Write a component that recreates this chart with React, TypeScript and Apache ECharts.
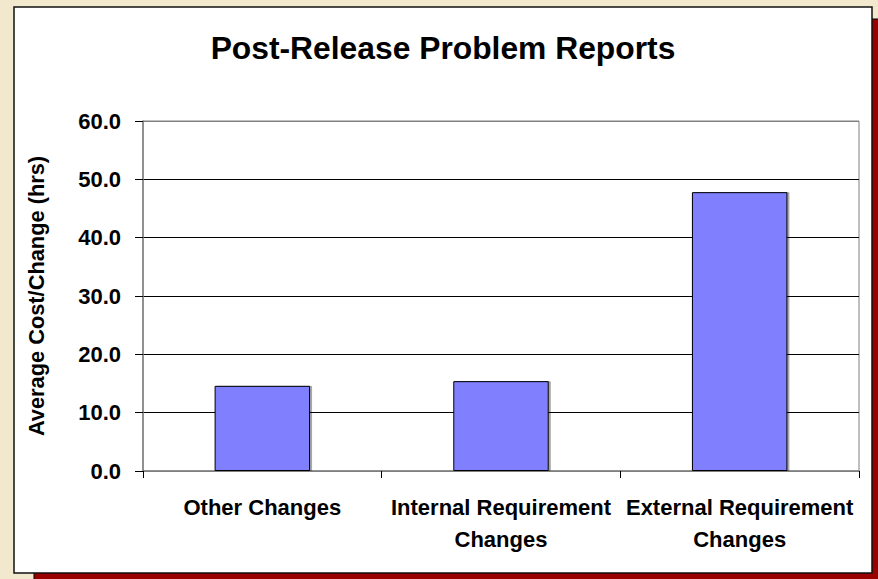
import React, { useEffect, useRef } from "react";
import * as echarts from "echarts";

const chartTitle = "Post-Release Problem Reports";
const yAxisName = "Average Cost/Change (hrs)";
const categories = ["Other Changes", "Internal Requirement\nChanges", "External Requirement\nChanges"];
const avgCost = [14.6, 15.4, 47.8];
const yMin = 0;
const yMax = 60;
const yStep = 10;

const FONT = "'Liberation Sans', Arial, Helvetica, sans-serif";

export default function App() {
  const ref = useRef<HTMLDivElement>(null);
  useEffect(() => {
    if (!ref.current) return;
    const chart = echarts.init(ref.current, null, { renderer: "svg" });
    chart.setOption({
      animation: false,
      backgroundColor: "#f1e8cd",
      textStyle: { fontFamily: FONT },
      graphic: [
        {
          type: "rect",
          z: -20,
          shape: { x: 34, y: 19, width: 870, height: 580 },
          style: { fill: "#990000", stroke: "#000", lineWidth: 1 },
        },
        {
          type: "rect",
          z: -10,
          shape: { x: 14, y: 7, width: 858, height: 566 },
          style: { fill: "#ffffff", stroke: "#111", lineWidth: 1.5 },
        },
        {
          type: "text",
          z: 10,
          x: 443,
          y: 48,
          style: {
            text: chartTitle,
            fontFamily: FONT,
            fontSize: 31.8,
            fontWeight: "bold",
            fill: "#000",
            align: "center",
            verticalAlign: "middle",
          },
        },
      ],
      grid: {
        left: 143,
        right: 19,
        top: 121,
        bottom: 108,
        containLabel: false,
        show: true,
        borderColor: "#808080",
        borderWidth: 1,
        backgroundColor: "transparent",
      },
      xAxis: {
        type: "category",
        data: categories,
        axisLine: { show: true, lineStyle: { color: "#808080", width: 1.5 } },
        axisTick: { show: true, length: 7, lineStyle: { color: "#000" }, alignWithLabel: false },
        axisLabel: {
          interval: 0,
          margin: 20,
          fontFamily: FONT,
          fontSize: 22,
          fontWeight: "bold",
          color: "#000",
          lineHeight: 32,
        },
        splitLine: { show: false },
      },
      yAxis: {
        type: "value",
        min: yMin,
        max: yMax,
        interval: yStep,
        name: yAxisName,
        nameLocation: "middle",
        nameGap: 96,
        nameRotate: 90,
        nameTextStyle: { fontFamily: FONT, fontSize: 21.8, fontWeight: "bold", color: "#000" },
        axisLine: { show: true, lineStyle: { color: "#808080", width: 1.5 } },
        axisTick: { show: true, inside: false, length: 8, lineStyle: { color: "#000" } },
        axisLabel: {
          margin: 22,
          fontFamily: FONT,
          fontSize: 22,
          fontWeight: "bold",
          color: "#000",
          formatter: (v: number) => v.toFixed(1),
        },
        splitLine: {
          show: true,
          lineStyle: {
            color: ["#808080", "#000", "#000", "#000", "#000", "#000", "#808080"],
            width: 1,
          },
        },
      },
      series: [
        {
          type: "bar",
          data: avgCost,
          barWidth: "40%",
          itemStyle: {
            color: "#8080ff",
            borderColor: "#000",
            borderWidth: 1,
            shadowColor: "rgba(0,0,0,0.35)",
            shadowOffsetX: 2,
            shadowOffsetY: 0,
            shadowBlur: 0,
          },
        },
      ],
    });
    return () => chart.dispose();
  }, []);
  return (
    <div
      ref={ref}
      style={{ position: "fixed", left: 0, top: 0, width: 878, height: 579 }}
    />
  );
}
